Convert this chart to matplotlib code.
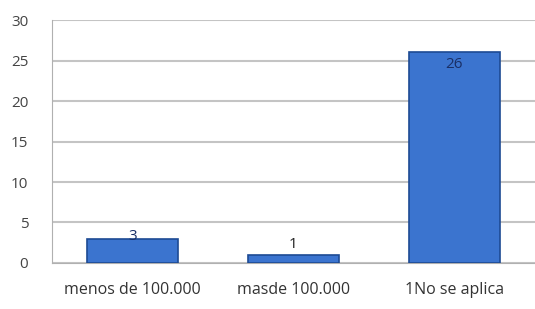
import numpy as np
import matplotlib.pyplot as plt

# data
categorias = ["menos de 100.000", "masde 100.000", "1No se aplica"]
valores = [3, 1, 26]
y_ticks = [0, 5, 10, 15, 20, 25, 30]

plt.rcParams['font.family'] = ['Open Sans', 'DejaVu Sans']

fig = plt.figure(figsize=(5.35, 3.09), dpi=100)
ax = fig.add_axes([0.097, 0.149, 0.903, 0.786])

x = np.arange(len(categorias))
bars = ax.bar(x, valores, width=0.57, color='#3b74cf', edgecolor='#1d4a93',
              linewidth=1.2, zorder=3)

# data labels
for xi, v in zip(x, valores):
    if v > 20:
        ax.text(xi, v - 1.5, str(v), ha='center', va='center', fontsize=11,
                color='#1a2f66', zorder=4)
    elif v > 2:
        ax.text(xi, v - 0.6, str(v), ha='center', va='bottom', fontsize=11,
                color='#1a2f66', zorder=4)
    else:
        ax.text(xi, v + 0.3, str(v), ha='center', va='bottom', fontsize=11,
                color='#222222', zorder=4)

ax.set_xlim(-0.5, 2.5)
ax.set_ylim(0, 30)
ax.set_yticks(y_ticks)
ax.set_xticks(x)
ax.set_xticklabels(categorias)
ax.tick_params(axis='y', length=0, pad=17, labelsize=11, labelcolor='#444444')
ax.tick_params(axis='x', length=0, pad=14, labelsize=11.5, labelcolor='#333333')
ax.grid(axis='y', color='#c4c4c4', linewidth=1.5, zorder=0)

for s in ['top', 'right']:
    ax.spines[s].set_visible(False)
ax.spines['left'].set_color('#b0b0b0')
ax.spines['bottom'].set_color('#b0b0b0')

fig.savefig('out.png', dpi=100)
